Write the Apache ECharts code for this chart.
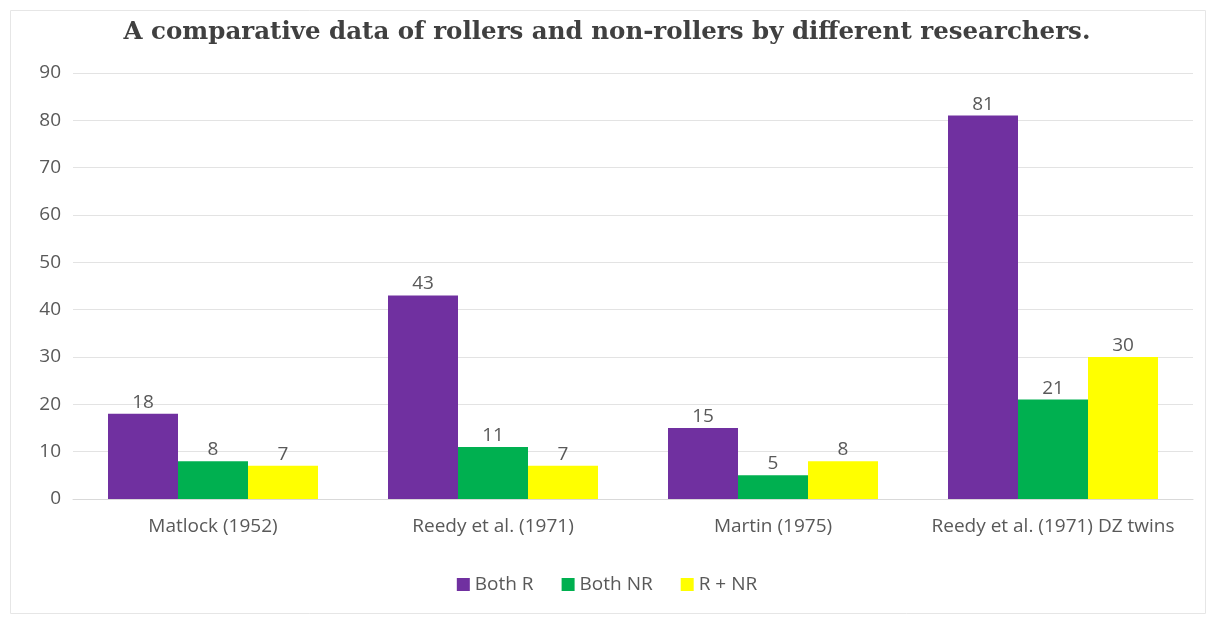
<!DOCTYPE html>
<html><head><meta charset="utf-8">
<script src="https://cdn.jsdelivr.net/npm/echarts@6/dist/echarts.min.js"></script>
<style>html,body{margin:0;padding:0;background:#fff}#c{width:1214px;height:619px}</style>
</head><body><div id="c"></div>
<script>
const categories = ['Matlock (1952)', 'Reedy et al. (1971)', 'Martin (1975)', 'Reedy et al. (1971) DZ twins'];
const bothR = [18, 43, 15, 81];
const bothNR = [8, 11, 5, 21];
const rPlusNR = [7, 7, 8, 30];
const seriesNames = ['Both R', 'Both NR', 'R + NR'];
const colors = ['#7030A0', '#00B050', '#FFFF00'];

const chart = echarts.init(document.getElementById('c'));
const font = '"Open Sans", "Noto Sans", sans-serif';
const mk = (name, data, color) => ({
  name, type: 'bar', data, barGap: '0%', barCategoryGap: '25%',
  itemStyle: { color },
  label: { show: true, position: 'top', color: '#595959', fontSize: 19, fontFamily: font, distance: 2 }
});
chart.setOption({
  backgroundColor: '#fff',
  animation: false,
  graphic: [{ type: 'rect', shape: { x: 10.5, y: 10.5, width: 1195, height: 603 }, style: { fill: 'none', stroke: '#e6e6e6', lineWidth: 1 }, silent: true }],
  title: {
    text: 'A comparative data of rollers and non-rollers by different researchers.',
    left: 'center', top: 15,
    textStyle: { fontFamily: '"DejaVu Serif", "Liberation Serif", serif', fontWeight: 'bold', fontSize: 24.5, color: '#404040' }
  },
  legend: {
    bottom: 20, left: 'center', itemWidth: 13, itemHeight: 13, itemGap: 28,
    icon: 'rect',
    textStyle: { color: '#595959', fontSize: 19, fontFamily: font },
    data: seriesNames
  },
  grid: { left: 73, right: 21, top: 73, bottom: 120, containLabel: false },
  xAxis: {
    type: 'category', data: categories,
    axisLine: { lineStyle: { color: '#d9d9d9' } },
    axisTick: { show: false },
    axisLabel: { interval: 0, color: '#595959', fontSize: 19, fontFamily: font, margin: 18 }
  },
  yAxis: {
    type: 'value', min: 0, max: 90, interval: 10,
    axisLine: { show: false }, axisTick: { show: false },
    splitLine: { lineStyle: { color: '#e3e3e3' } },
    axisLabel: { color: '#595959', fontSize: 19, fontFamily: font, margin: 12 }
  },
  series: [mk(seriesNames[0], bothR, colors[0]), mk(seriesNames[1], bothNR, colors[1]), mk(seriesNames[2], rPlusNR, colors[2])]
});
</script></body></html>
